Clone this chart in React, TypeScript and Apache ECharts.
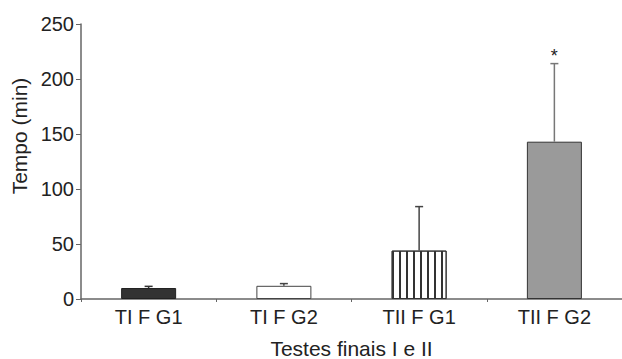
import React, { useEffect, useRef } from "react";
import * as echarts from "echarts";

const categories = ["TI F G1", "TI F G2", "TII F G1", "TII F G2"];
const means = [10, 12, 44, 143];
const upperErrors = [1.5, 2, 40, 71];
const marks = ["", "", "", "*"];
const yTicks = [0, 50, 100, 150, 200, 250];

const FONT = "'Liberation Sans', Arial, sans-serif";
const TEXT = "#222222";

export default function App() {
  const ref = useRef<HTMLDivElement>(null);
  useEffect(() => {
    document.body.style.margin = "0";
    if (!ref.current) return;
    const chart = echarts.init(ref.current, undefined, { renderer: "svg" });
    const barStyles = [
      { color: "#333333", borderColor: "#222", borderWidth: 1 },
      { color: "#ffffff", borderColor: "#444", borderWidth: 1 },
      {
        color: "#ffffff",
        borderColor: "#333",
        borderWidth: 1,
        decal: {
          symbol: "rect",
          symbolSize: 1,
          color: "#333",
          dashArrayX: [1.2, 4.4],
          dashArrayY: [4, 0],
          rotation: 0,
        },
      },
      { color: "#9a9a9a", borderColor: "#333", borderWidth: 1 },
    ];
    const errColors = ["#333", "#444", "#444", "#777"];
    chart.setOption({
      animation: false,
      grid: { left: 81, top: 24, right: 0, bottom: 60, outerBoundsMode: "none", containLabel: false },
      xAxis: {
        type: "category",
        data: categories,
        name: "Testes finais I e II",
        nameLocation: "middle",
        nameGap: 39,
        nameTextStyle: { fontFamily: FONT, fontSize: 21, color: TEXT },
        axisLine: { lineStyle: { color: "#666", width: 1.5 } },
        axisTick: { show: true, length: 3, lineStyle: { color: "#666" } },
        axisLabel: { fontFamily: FONT, fontSize: 20, color: TEXT, margin: 8 },
      },
      yAxis: {
        type: "value",
        min: yTicks[0],
        max: yTicks[yTicks.length - 1],
        interval: 50,
        name: "Tempo (min)",
        nameLocation: "middle",
        nameGap: 50,
        nameTextStyle: { fontFamily: FONT, fontSize: 21, color: TEXT, padding: [0, 0, 0, 51] },
        axisLine: { show: true, lineStyle: { color: "#666", width: 1.5 } },
        axisTick: { show: true, length: 5, lineStyle: { color: "#666" } },
        axisLabel: { fontFamily: FONT, fontSize: 20, color: TEXT, margin: 7 },
        splitLine: { show: false },
      },
      series: [
        {
          type: "bar",
          barWidth: 55,
          data: means.map((v, i) => ({ value: v, itemStyle: barStyles[i] })),
          z: 2,
        },
        {
          type: "custom",
          z: 3,
          data: means.map((m, i) => [i, m, upperErrors[i]]),
          renderItem: (params: any, api: any) => {
            const i = api.value(0);
            const m = api.value(1);
            const e = api.value(2);
            const base = api.coord([i, m]);
            const top = api.coord([i, m + e]);
            const col = errColors[params.dataIndex];
            const cap = 4;
            const children: any[] = [
              {
                type: "line",
                shape: { x1: base[0], y1: base[1], x2: top[0], y2: top[1] },
                style: { stroke: col, lineWidth: 1.5 },
              },
              {
                type: "line",
                shape: { x1: top[0] - cap, y1: top[1], x2: top[0] + cap, y2: top[1] },
                style: { stroke: col, lineWidth: 1.5 },
              },
            ];
            const mk = marks[params.dataIndex];
            if (mk) {
              children.push({
                type: "text",
                style: {
                  text: mk,
                  x: top[0],
                  y: top[1] + 1,
                  align: "center",
                  verticalAlign: "bottom",
                  fontFamily: FONT,
                  fontSize: 18,
                  fill: TEXT,
                },
              });
            }
            return { type: "group", children };
          },
        },
      ],
    });
    return () => chart.dispose();
  }, []);
  return <div ref={ref} style={{ width: 622, height: 359 }} />;
}
